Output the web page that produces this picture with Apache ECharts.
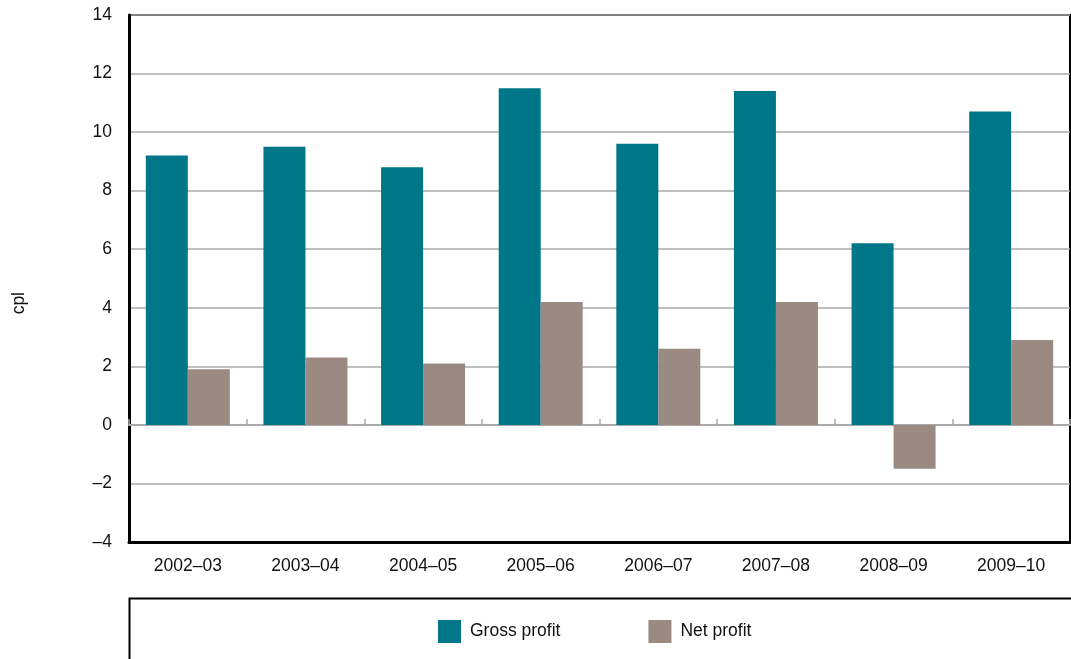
<!DOCTYPE html>
<html>
<head>
<meta charset="utf-8">
<script src="https://cdn.jsdelivr.net/npm/echarts@6/dist/echarts.min.js"></script>
<style>
	html,body{margin:0;padding:0;background:#fff;}
	#chart{width:1071px;height:659px;}
</style>
</head>
<body>
<div id="chart"></div>
<script>
	var categories = ['2002–03','2003–04','2004–05','2005–06','2006–07','2007–08','2008–09','2009–10'];
	var grossProfit = [9.2, 9.5, 8.8, 11.5, 9.6, 11.4, 6.2, 10.7];
	var netProfit = [1.9, 2.3, 2.1, 4.2, 2.6, 4.2, -1.5, 2.9];

	var FONT = '"Liberation Sans", Arial, sans-serif';

	// 负数用长破折号显示
	function dashFormat(v){
		return (v < 0 ? '–' + Math.abs(v) : '' + v);
	}

	var chart = echarts.init(document.getElementById('chart'));
	var option = {
		animation:false,
		grid:{
			left:129,
			right:1,
			top:15,
			bottom:117,
			show:true,
			borderColor:'#000',
			borderWidth:2
		},
		legend:{
			top:615,
			left:433,
			itemWidth:23,
			itemHeight:23,
			itemGap:88,
			icon:'rect',
			textStyle:{fontFamily:FONT,fontSize:17.5,color:'#111',padding:[0,0,0,4]},
			data:['Gross profit','Net profit']
		},
		graphic:[
			{
				type:'rect',
				left:127,
				top:596,
				shape:{width:960,height:80},
				style:{fill:'none',stroke:'#000',lineWidth:2}
			},
			{
				type:'text',
				left:10,
				top:292,
				rotation:Math.PI/2,
				style:{text:'cpl',font:'17.5px ' + FONT,fill:'#111'}
			}
		],
		xAxis:[
			{
				type:'category',
				data:categories,
				position:'bottom',
				axisLine:{onZero:false,lineStyle:{color:'#000',width:3}},
				axisTick:{show:false},
				axisLabel:{fontFamily:FONT,fontSize:17.5,color:'#111',margin:15}
			},
			{
				type:'category',
				data:categories,
				position:'bottom',
				axisLine:{onZero:true,lineStyle:{color:'#aaa',width:2}},
				axisTick:{show:true,inside:true,length:6,lineStyle:{color:'#aaa',width:1.5}},
				axisLabel:{show:false}
			}
		],
		yAxis:{
			type:'value',
			min:-4,
			max:14,
			interval:2,
			axisLine:{show:true,lineStyle:{color:'#000',width:3}},
			axisTick:{show:false},
			splitLine:{lineStyle:{color:'#aaa',width:1.5}},
			axisLabel:{fontFamily:FONT,fontSize:17.5,color:'#111',margin:17,formatter:dashFormat}
		},
		series:[
			{
				name:'Gross profit',
				type:'bar',
				xAxisIndex:0,
				barWidth:42,
				barGap:'0%',
				data:grossProfit,
				itemStyle:{color:'#007788'}
			},
			{
				name:'Net profit',
				type:'bar',
				xAxisIndex:0,
				barWidth:42,
				barGap:'0%',
				data:netProfit,
				itemStyle:{color:'#9A8A82'}
			}
		]
	};
	chart.setOption(option);
</script>
</body>
</html>
